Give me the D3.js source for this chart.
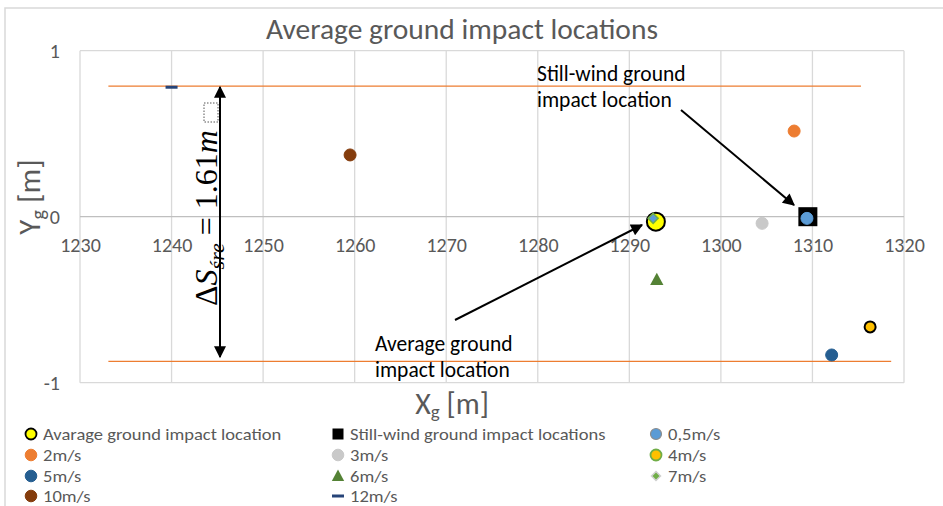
<!DOCTYPE html>
<html><head><meta charset="utf-8">
<script src="https://cdn.jsdelivr.net/npm/d3@7"></script>
<style>body{margin:0;background:#fff}svg{display:block}</style>
</head><body>
<script>
// ---- data ----
const xTicks = [1230,1240,1250,1260,1270,1280,1290,1300,1310,1320];
const yTicks = [-1,0,1];
const seriesNames = ["Avarage ground impact location","Still-wind ground impact locations","0,5m/s","2m/s","3m/s","4m/s","5m/s","6m/s","7m/s","10m/s","12m/s"];
const seriesX = [1292.9, 1309.5, 1309.4, 1308.0, 1304.5, 1316.3, 1312.1, 1293.0, 1292.6, 1259.5, 1240.0];
const seriesY = [-0.03, 0.0, -0.01, 0.516, -0.04, -0.664, -0.833, -0.38, -0.01, 0.372, 0.78];
const bandTop = {x0:1233.1, x1:1315.3, y:0.787};
const bandBottom = {x0:1233.1, x1:1318.6, y:-0.871};

const W=943,H=506;
const svg=d3.select("body").append("svg").attr("width",W).attr("height",H);
const font="Calibri, Carlito, 'Open Sans', 'Liberation Sans', sans-serif";
const grey="#595959";

// chart border
svg.append("path").attr("d","M5,506 V8 H943").attr("fill","none").attr("stroke","#d9d9d9").attr("stroke-width",1.5);

const x=d3.scaleLinear().domain([1230,1320]).range([80,904]);
const y=d3.scaleLinear().domain([-1,1]).range([382.7,50.7]);

// gridlines
const g=svg.append("g");
g.selectAll(".vg").data(xTicks).join("line")
  .attr("x1",d=>x(d)).attr("x2",d=>x(d)).attr("y1",y(1)).attr("y2",y(-1))
  .attr("stroke","#d9d9d9").attr("stroke-width",1.3);
g.selectAll(".hg").data(yTicks).join("line")
  .attr("x1",x(1230)).attr("x2",x(1320)).attr("y1",d=>y(d)).attr("y2",d=>y(d))
  .attr("stroke",d=>d===0?"#bfbfbf":"#d9d9d9").attr("stroke-width",1.3);

// axes (tick labels via d3 axes)
const xAxis=svg.append("g").attr("transform",`translate(0,${y(0)})`)
  .call(d3.axisBottom(x).tickValues(xTicks).tickSize(0).tickPadding(21).tickFormat(d3.format("d")));
const yAxis=svg.append("g").attr("transform",`translate(${x(1230)},0)`)
  .call(d3.axisLeft(y).tickValues(yTicks).tickSize(0).tickPadding(20).tickFormat(d=>d===-1?"-1":d3.format("d")(d)));
[xAxis,yAxis].forEach(a=>{a.select(".domain").remove();
  a.selectAll("text").attr("fill",grey).attr("font-family",font).attr("font-size",20);});

// title
svg.append("text").attr("x",462).attr("y",39).attr("text-anchor","middle")
  .attr("font-family",font).attr("font-size",29.5).attr("fill",grey).text("Average ground impact locations");

// axis titles
const xt=svg.append("text").attr("x",452).attr("y",414).attr("text-anchor","middle")
  .attr("font-family",font).attr("font-size",30).attr("fill",grey);
xt.append("tspan").text("X");
xt.append("tspan").attr("font-size",19).attr("dy",4).text("g");
xt.append("tspan").attr("dy",-4).text(" [m]");
const yt=svg.append("text").attr("transform","translate(40,197) rotate(-90)").attr("text-anchor","middle")
  .attr("font-family",font).attr("font-size",31).attr("fill",grey);
yt.append("tspan").text("Y");
yt.append("tspan").attr("font-size",20).attr("dy",5).text("g");
yt.append("tspan").attr("dy",-5).text(" [m]");

// orange band lines
[bandTop,bandBottom].forEach(b=>{
  svg.append("line").attr("x1",x(b.x0)).attr("x2",x(b.x1)).attr("y1",y(b.y)).attr("y2",y(b.y))
    .attr("stroke","#ED7D31").attr("stroke-width",1.3);
});

// markers
const styles={
 0:{shape:"circle",r:9,fill:"#FFFF00",stroke:"#000",sw:2},
 1:{shape:"square",r:9.5,fill:"#000",stroke:"#000",sw:1},
 2:{shape:"circle",r:6,fill:"#5B9BD5",stroke:"#5B9BD5",sw:1},
 3:{shape:"circle",r:6,fill:"#ED7D31",stroke:"#ED7D31",sw:1},
 4:{shape:"circle",r:6,fill:"#C9C9C9",stroke:"#C9C9C9",sw:1},
 5:{shape:"circle",r:5.5,fill:"#FFC000",stroke:"#000",sw:2},
 6:{shape:"circle",r:6,fill:"#255E91",stroke:"#255E91",sw:1},
 7:{shape:"triangle",r:7,fill:"#548235",stroke:"#548235",sw:1},
 8:{shape:"diamond",r:5,fill:"#5B9BD5",stroke:"#70AD47",sw:1.5},
 9:{shape:"circle",r:6,fill:"#843C0C",stroke:"#843C0C",sw:1},
 10:{shape:"dash",r:6,fill:"#264478",stroke:"#264478",sw:1}
};
function drawMarker(sel,st,cx,cy){
  if(st.shape==="circle") sel.append("circle").attr("cx",cx).attr("cy",cy).attr("r",st.r).attr("fill",st.fill).attr("stroke",st.stroke).attr("stroke-width",st.sw);
  else if(st.shape==="square") sel.append("rect").attr("x",cx-st.r).attr("y",cy-st.r).attr("width",2*st.r).attr("height",2*st.r).attr("fill",st.fill);
  else if(st.shape==="triangle") sel.append("path").attr("d",`M${cx},${cy-st.r} L${cx+st.r*0.95},${cy+st.r*0.75} L${cx-st.r*0.95},${cy+st.r*0.75}Z`).attr("fill",st.fill);
  else if(st.shape==="diamond") sel.append("path").attr("d",`M${cx},${cy-st.r} L${cx+st.r},${cy} L${cx},${cy+st.r} L${cx-st.r},${cy}Z`).attr("fill",st.fill).attr("stroke",st.stroke).attr("stroke-width",st.sw);
  else if(st.shape==="dash") sel.append("rect").attr("x",cx-st.r).attr("y",cy-1.5).attr("width",2*st.r).attr("height",3).attr("fill",st.fill);
}
const order=[1,2,3,4,5,6,7,9,10,0,8];
const mg=svg.append("g");
order.forEach(i=>drawMarker(mg,styles[i],x(seriesX[i]),y(seriesY[i])));

// arrows
const defs=svg.append("defs");
defs.append("marker").attr("id","ah").attr("viewBox","0 0 10 10").attr("refX",9).attr("refY",5)
  .attr("markerWidth",7).attr("markerHeight",6).attr("markerUnits","strokeWidth").attr("orient","auto-start-reverse")
  .append("path").attr("d","M0,0 L10,5 L0,10 Z").attr("fill","#000");
function arrow(x1,y1,x2,y2,both){
  const l=svg.append("line").attr("x1",x1).attr("y1",y1).attr("x2",x2).attr("y2",y2)
    .attr("stroke","#000").attr("stroke-width",2).attr("marker-end","url(#ah)");
  if(both) l.attr("marker-start","url(#ah)");
}
arrow(681,110,794,205,false);
arrow(455,320,642,225,false);
arrow(220,87,220,357,true);

// annotation texts
const ann=(tx,ty,lines)=>{const t=svg.append("text").attr("font-family",font).attr("font-size",21.5).attr("fill","#000");
  lines.forEach((s,i)=>t.append("tspan").attr("x",tx).attr("y",ty+i*26).text(s));};
ann(537,81,["Still-wind ground","impact location"]);
ann(375,351,["Average ground","impact location"]);

// ΔS label
const ds=svg.append("text").attr("transform","translate(217,306) rotate(-90)")
  .attr("font-family","'Liberation Serif','DejaVu Serif',serif").attr("font-size",32).attr("fill","#000");
ds.append("tspan").text("Δ");
ds.append("tspan").attr("font-style","italic").text("S");
ds.append("tspan").attr("font-style","italic").attr("font-size",22).attr("dy",7).text("śre");
ds.append("tspan").attr("dy",-7).text(" = 1.61");
ds.append("tspan").attr("font-style","italic").text("m");
svg.append("rect").attr("x",204).attr("y",103).attr("width",14).attr("height",19)
  .attr("fill","none").attr("stroke","#555").attr("stroke-width",1).attr("stroke-dasharray","1.5,1.5");

// legend
const lcols=[31,338,656], lrows=[434,455,476,496];
seriesNames.forEach((name,i)=>{
  const cx=lcols[i%3], cy=lrows[Math.floor(i/3)];
  const lg=svg.append("g");
  const st=Object.assign({},styles[i]);
  if(i===0) st.r=5.5, st.sw=1.8;
  if(i===1) st.r=5.5;
  if(i===2) {st.r=5.5; st.stroke="#8c8c8c"; st.sw=1.2;}
  if(i===5) {st.r=5.5; st.stroke="#70AD47"; st.sw=1.8;}
  if(i===8) {st.fill="#70AD47"; st.stroke="#d0d0d0"; st.r=4.5;}
  if(i===7) st.r=6.5;
  if([3,4,6,9].includes(i)) st.r=5.8;
  drawMarker(lg,st,cx,cy);
  lg.append("text").attr("transform",`translate(${cx+12},${cy+6}) scale(1.09,1)`)
    .attr("font-family",font).attr("font-size",17)
    .attr("fill",grey).text(name);
});
</script>
</body></html>
